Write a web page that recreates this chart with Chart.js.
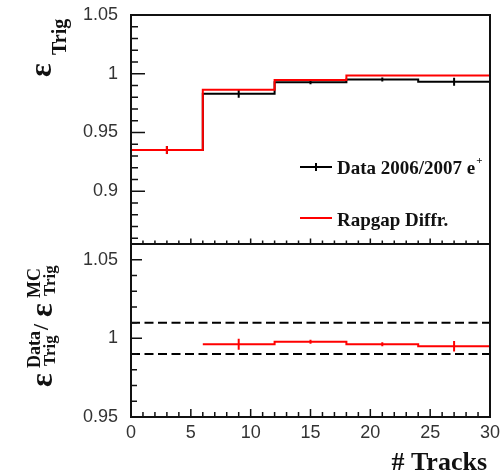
<!DOCTYPE html>
<html>
<head>
<meta charset="utf-8">
<script src="https://cdn.jsdelivr.net/npm/chart.js@4.4.0/dist/chart.umd.min.js"></script>
<style>
  html, body { margin: 0; padding: 0; background: #fff; }
  #wrap { position: relative; width: 500px; height: 475px; }
  #wrap canvas { position: absolute; left: 0; top: 0; }
</style>
</head>
<body>
<div id="wrap">
  <canvas id="eff" width="500" height="475"></canvas>
  <canvas id="ratio" width="500" height="475"></canvas>
</div>
<script>
// ===== DATA =====
const binEdges = [0, 6, 12, 18, 24, 30];
const binCentres = [3, 9, 15, 21, 27];
const dataEff = [0.935, 0.9830, 0.9928, 0.9950, 0.9932];
const dataEffErr = [0.0034, 0.0034, 0.0017, 0.0017, 0.0034];
const mcEff = [0.935, 0.9863, 0.9946, 0.9984, 0.9984];
const mcEffErr = [0.0034, 0, 0, 0, 0];
const ratio = [null, 0.9963, 0.9978, 0.9963, 0.9950];
const ratioErr = [0, 0.0035, 0.0013, 0.0013, 0.0033];
const bandLimits = [1.01, 0.99];
const xTicks = [0, 5, 10, 15, 20, 25, 30];
const effTicks = [0.9, 0.95, 1, 1.05];
const ratioTicks = [0.95, 1, 1.05];

const RED = "#ff0000";
const INK = "#111111";
const tickFont = { family: "'Liberation Sans', Arial, sans-serif", size: 18 };
const serif = "'Liberation Serif', 'Times New Roman', serif";

// histogram outline: one point per bin edge, stepped
function histPoints(edges, vals) {
  const pts = [];
  vals.forEach((v, i) => {
    if (v !== null) pts.push({ x: edges[i], y: v });
  });
  const last = vals.length - 1;
  pts.push({ x: edges[last + 1], y: vals[last] });
  return pts;
}

// vertical error bars, separated by null gaps
function errPoints(centres, vals, errs) {
  const pts = [];
  vals.forEach((v, i) => {
    if (v === null || !errs[i]) return;
    pts.push({ x: centres[i], y: v - errs[i] }, { x: centres[i], y: v + errs[i] }, { x: centres[i], y: null });
  });
  return pts;
}

// keep label overhang from pushing the plot area around
function noPad(s) {
  s.paddingTop = 0;
  s.paddingBottom = 0;
  s.paddingLeft = 0;
  s.paddingRight = 0;
}

// ===== FRAME + INWARD TICKS =====
const frameTicks = {
  id: "frameTicks",
  afterDatasetsDraw(chart, args, opts) {
    const { ctx, chartArea: a, scales: { x, y } } = chart;
    ctx.save();
    ctx.strokeStyle = INK;
    ctx.lineWidth = 1.5;
    ctx.beginPath();
    const lo = Math.ceil(y.min * 100 - 1e-6), hi = Math.floor(y.max * 100 + 1e-6);
    for (let v = lo; v <= hi; v++) {
      const py = y.getPixelForValue(v / 100);
      const len = v % 5 === 0 ? opts.yMajor : opts.yMinor;
      ctx.moveTo(a.left, py);
      ctx.lineTo(a.left + len, py);
    }
    for (let v = x.min; v <= x.max; v++) {
      const px = x.getPixelForValue(v);
      const len = v % 5 === 0 ? opts.xMajor : opts.xMinor;
      ctx.moveTo(px, a.bottom);
      ctx.lineTo(px, a.bottom - len);
    }
    ctx.stroke();
    ctx.lineWidth = 2;
    ctx.strokeRect(a.left, a.top, a.right - a.left, a.bottom - a.top);
    ctx.restore();
  }
};

// rotated title made of pieces (sub/superscripts)
function drawRotated(ctx, x, y, pieces) {
  ctx.save();
  ctx.translate(x, y);
  ctx.rotate(-Math.PI / 2);
  ctx.textAlign = "left";
  ctx.textBaseline = "alphabetic";
  ctx.fillStyle = INK;
  pieces.forEach(p => {
    ctx.font = (p.weight || "bold") + " " + p.size + "px " + serif;
    ctx.fillText(p.text, p.dx, p.dy);
  });
  ctx.restore();
}

const effText = {
  id: "effText",
  afterDraw(chart) {
    const ctx = chart.ctx;
    drawRotated(ctx, 51, 77, [
      { text: "ε", size: 32, dx: 0, dy: 0 },
      { text: "Trig", size: 20, dx: 22, dy: 15 }
    ]);

    // legend
    ctx.save();
    ctx.lineWidth = 2;
    ctx.strokeStyle = "#000";
    ctx.beginPath();
    ctx.moveTo(300, 167); ctx.lineTo(332, 167);
    ctx.moveTo(316, 163); ctx.lineTo(316, 171);
    ctx.stroke();
    ctx.strokeStyle = RED;
    ctx.beginPath();
    ctx.moveTo(300, 218); ctx.lineTo(332, 218);
    ctx.stroke();

    ctx.fillStyle = INK;
    ctx.textAlign = "left";
    ctx.textBaseline = "alphabetic";
    ctx.font = "bold 19px " + serif;
    const label = "Data 2006/2007 e";
    ctx.fillText(label, 337, 174);
    const w = ctx.measureText(label).width;
    ctx.fillText("Rapgap Diffr.", 337, 226);
    ctx.font = "bold 11px " + serif;
    ctx.fillText("+", 337 + w + 1, 164);
    ctx.restore();
  }
};

const ratioText = {
  id: "ratioText",
  afterDraw(chart) {
    const ctx = chart.ctx;
    drawRotated(ctx, 52, 387, [
      { text: "ε", size: 32, dx: 0, dy: 0 },
      { text: "Data", size: 18, dx: 19, dy: -12 },
      { text: "Trig", size: 17, dx: 21, dy: 3 },
      { text: "/", size: 22, dx: 57, dy: -4 },
      { text: "ε", size: 32, dx: 70, dy: 0 },
      { text: "MC", size: 18, dx: 89, dy: -12 },
      { text: "Trig", size: 17, dx: 91, dy: 3 }
    ]);
    ctx.save();
    ctx.fillStyle = INK;
    ctx.font = "bold 26px " + serif;
    ctx.textAlign = "right";
    ctx.textBaseline = "alphabetic";
    ctx.fillText("# Tracks", 487, 470);
    ctx.restore();
  }
};

const line = (data, color, extra) => Object.assign({
  data, borderColor: color, borderWidth: 2, pointRadius: 0, fill: false
}, extra || {});

const yAxis = (min, max, ticks) => ({
  type: "linear", min, max,
  afterFit: s => { s.width = 131; noPad(s); },
  afterBuildTicks: s => { s.ticks = ticks.map(v => ({ value: v })); },
  grid: { display: false, drawTicks: false },
  border: { display: false },
  ticks: { padding: 13, font: tickFont, color: "#333", callback: v => String(v) }
});

// ===== EFFICIENCY PANEL =====
new Chart(document.getElementById("eff"), {
  type: "line",
  data: {
    datasets: [
      line(histPoints(binEdges, mcEff), RED, { stepped: true }),
      line(errPoints(binCentres, mcEff, mcEffErr), RED),
      line(histPoints(binEdges, dataEff), "#000", { stepped: true }),
      line(errPoints(binCentres, dataEff, dataEffErr), "#000")
    ]
  },
  options: {
    responsive: false,
    animation: false,
    layout: { padding: { left: 0, top: 15, right: 10, bottom: 231 } },
    plugins: {
      legend: { display: false },
      tooltip: { enabled: false },
      frameTicks: { yMinor: 7, yMajor: 14, xMinor: 3.5, xMajor: 5.5 }
    },
    scales: {
      x: { type: "linear", min: 0, max: 30, display: false, afterFit: noPad },
      y: yAxis(0.855, 1.05, effTicks)
    }
  },
  plugins: [frameTicks, effText]
});

// ===== RATIO PANEL =====
new Chart(document.getElementById("ratio"), {
  type: "line",
  data: {
    datasets: [
      line(histPoints(binEdges, ratio), RED, { stepped: true }),
      line(errPoints(binCentres, ratio, ratioErr), RED),
      ...bandLimits.map(b => line([{ x: binEdges[0], y: b }, { x: binEdges[binEdges.length - 1], y: b }], "#000", { borderDash: [9, 4.5] }))
    ]
  },
  options: {
    responsive: false,
    animation: false,
    layout: { padding: { left: 0, top: 244, right: 10, bottom: 0 } },
    plugins: {
      legend: { display: false },
      tooltip: { enabled: false },
      frameTicks: { yMinor: 6, yMajor: 11, xMinor: 5, xMajor: 8 }
    },
    scales: {
      x: {
        type: "linear", min: 0, max: 30,
        afterFit: s => { s.height = 58; noPad(s); },
        afterBuildTicks: s => { s.ticks = xTicks.map(v => ({ value: v })); },
        grid: { display: false, drawTicks: false },
        border: { display: false },
        ticks: { padding: 5, font: tickFont, color: "#333", maxRotation: 0, callback: v => String(v) }
      },
      y: yAxis(0.95, 1.06, ratioTicks)
    }
  },
  plugins: [frameTicks, ratioText]
});
</script>
</body>
</html>
